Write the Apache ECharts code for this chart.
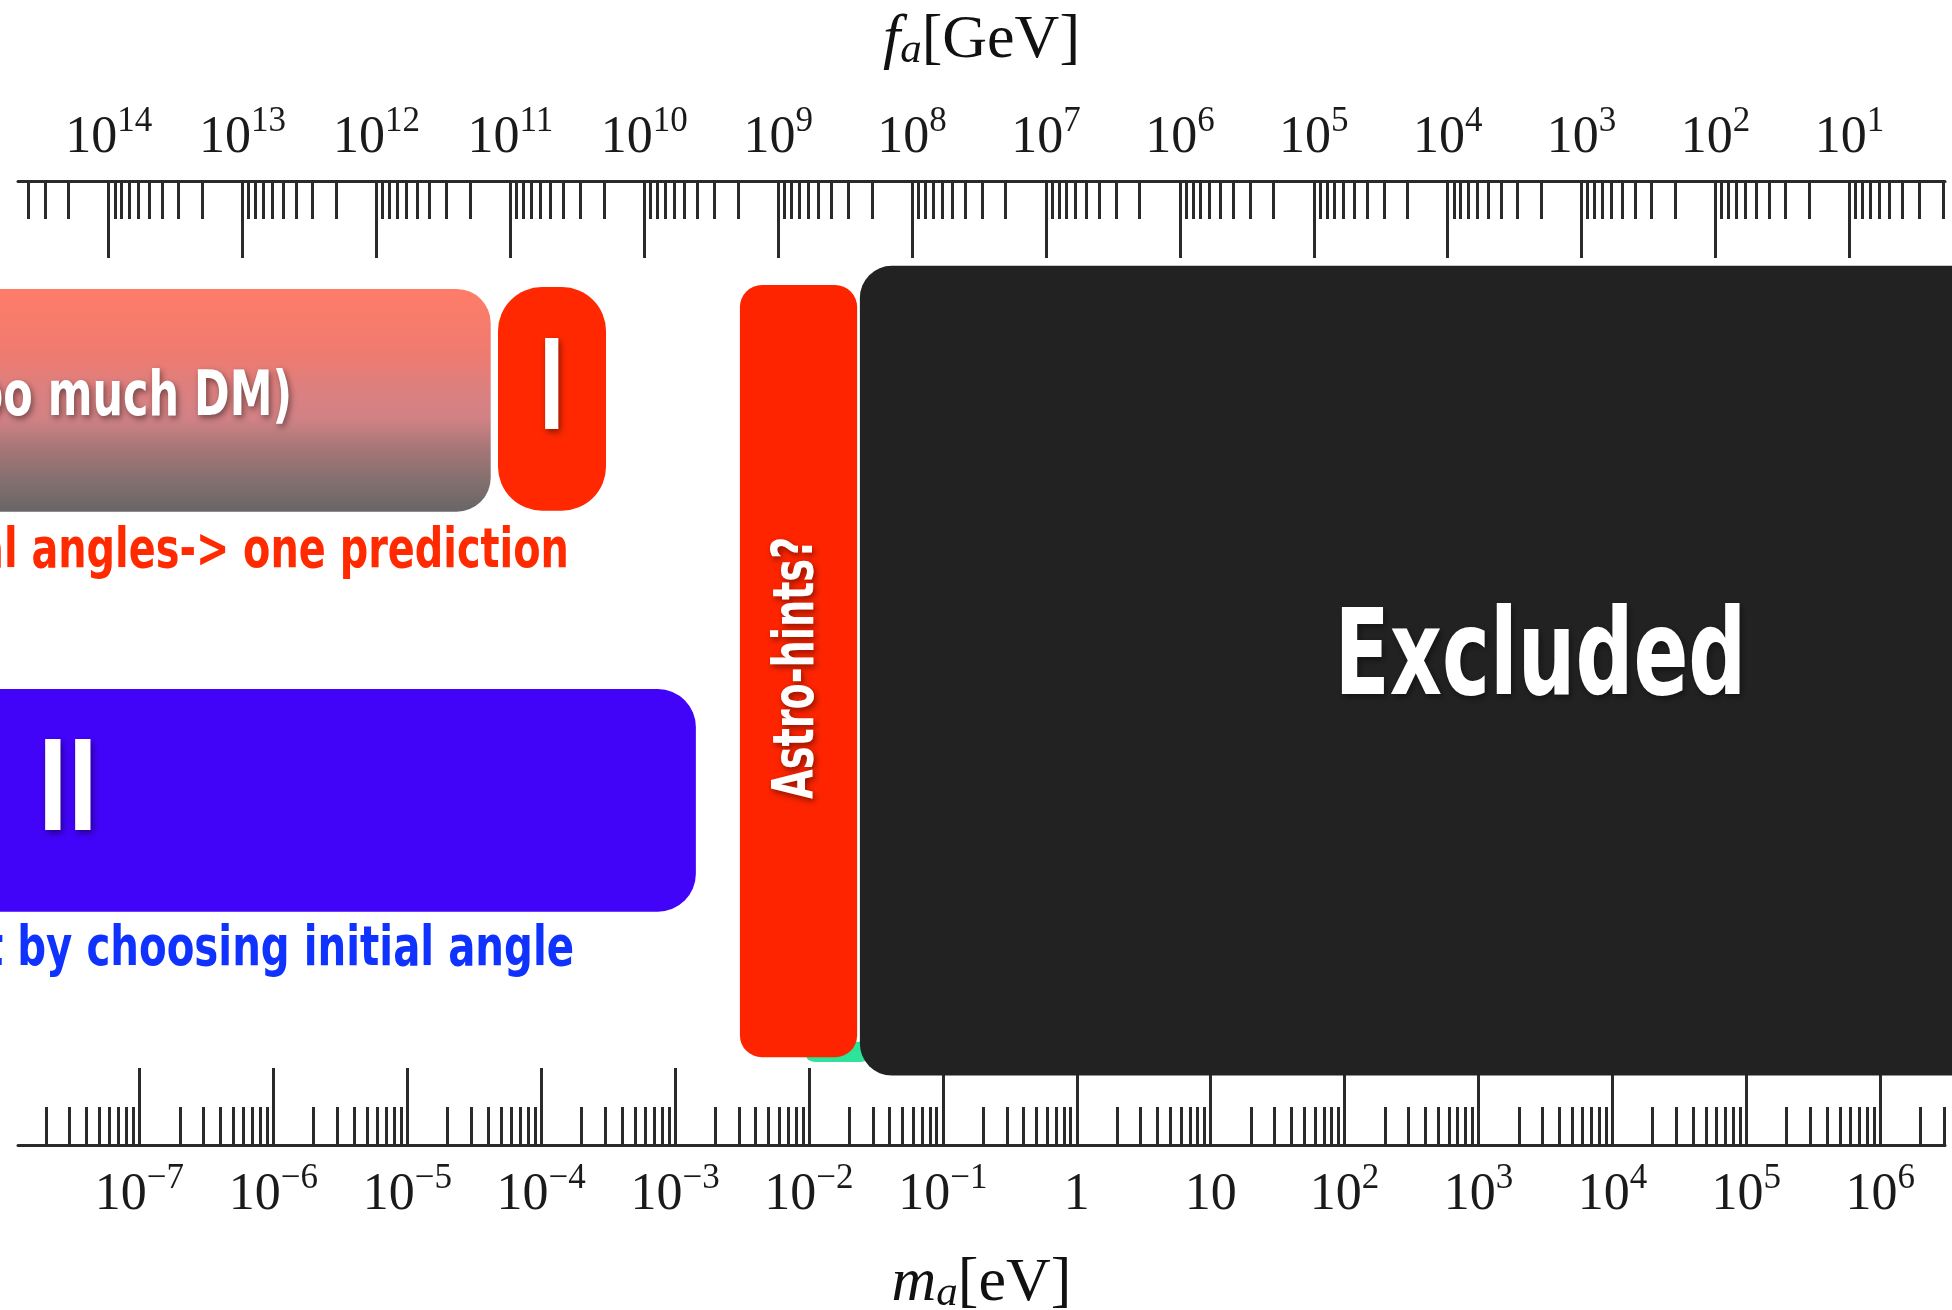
<!DOCTYPE html>
<html><head><meta charset="utf-8">
<script src="https://cdn.jsdelivr.net/npm/echarts@6/dist/echarts.min.js"></script>
<style>html,body{margin:0;padding:0;background:#fff;}#chart{width:1952px;height:1310px;}</style>
</head><body><div id="chart"></div>
<script>
// ---------------- DATA ----------------
// decade ticks (exponents) of both scales
const massDecadeExponents = [-7, -6, -5, -4, -3, -2, -1, 0, 1, 2, 3, 4, 5, 6];   // m_a [eV]
const faDecadeExponents   = [14, 13, 12, 11, 10, 9, 8, 7, 6, 5, 4, 3, 2, 1];        // f_a [GeV]
const minorMultipliers    = [2, 3, 4, 5, 6, 7, 8, 9];
// visible extent of the two log axes (log10 units)
const massAxisExtent = [-7.907, 6.484];
const faAxisExtent   = [0.286, 14.677];

// schematic regions: mass range in eV, vertical extent in % of panel height (0 = top axis)
const bandNames    = ['hidden band', 'Excluded', 'Astro-hints?', 'too much DM', 'I', 'II'];
const bandMassLow  = [9.3e-3, 2.4e-2, 3.05e-3, 3.0e-9, 4.76e-5, 3.0e-9];
const bandMassHigh = [2.9e-2, 1.0e7, 2.29e-2, 4.2e-5, 3.05e-4, 1.43e-3];
const bandTop      = [89.3, 8.8, 10.8, 11.2, 11.0, 52.7];
const bandBottom   = [91.4, 92.8, 90.9, 34.3, 34.2, 75.8];

// text annotations: anchor mass in eV, anchor height in % of panel height
const noteTexts  = ['Excluded', 'Astro-hints?', '(too much DM)', 'I', 'II',
                    'Natural initial angles-> one prediction',
                    'DM abundance set by choosing initial angle'];
const noteMass   = [2.9e3, 8.28e-3, 1.38e-6, 1.2e-4, 2.92e-8, 1.61e-4, 1.76e-4];
const noteHeight = [50.0, 50.5, 22.6, 22.4, 64.0, 38.5, 79.8];

// ---------------- STYLE ----------------
const SERIF = "'Liberation Serif', 'DejaVu Serif', serif";
const COND = "'Liberation Sans Narrow', 'DejaVu Sans Condensed', 'Liberation Sans', sans-serif";
const INK = '#2a2a2a';

const salmonGradient = new echarts.graphic.LinearGradient(0, 0, 0, 1, [
  { offset: 0, color: '#FF7C68' },
  { offset: 0.3, color: '#EE7B70' },
  { offset: 0.45, color: '#DC8080' },
  { offset: 0.58, color: '#D28285' },
  { offset: 0.72, color: '#A57676' },
  { offset: 0.86, color: '#846F6F' },
  { offset: 1, color: '#686666' }
]);
const bandStyles = [
  { fill: '#2EE39A', r: 10 },
  { fill: '#222222', r: 32 },
  { fill: '#FF2400', r: 22 },
  { fill: salmonGradient, r: 34 },
  { fill: '#FF2800', r: 44 },
  { fill: '#4203F9', r: 38 }
];
const noteStyles = [
  { size: 120, scaleX: 0.75, color: '#ffffff', align: 'center', shadow: true },
  { size: 57, scaleX: 0.745, color: '#ffffff', align: 'center', rotate: 90, shadow: true },
  { size: 62, scaleX: 0.77, color: '#ffffff', align: 'right', shadow: true },
  { size: 125, scaleX: 0.62, color: '#ffffff', align: 'center', shadow: true },
  { size: 125, scaleX: 0.72, color: '#ffffff', align: 'center', shadow: true },
  { size: 56, scaleX: 0.79, color: '#FF2A00', align: 'right' },
  { size: 56, scaleX: 0.8, color: '#0F32FF', align: 'right' }
];

// ---------------- BUILD ----------------
function minorTicks(extent) {
  const out = [];
  for (let n = Math.floor(extent[0]) - 1; n <= Math.ceil(extent[1]); n++) {
    minorMultipliers.forEach(k => {
      const v = n + Math.log10(k);
      if (v >= extent[0] && v <= extent[1]) out.push(v);
    });
  }
  return out;
}
const tickRich = {
  b: { fontSize: 52, fontFamily: SERIF, color: '#1a1a1a', lineHeight: 52 },
  s: { fontSize: 35, fontFamily: SERIF, color: '#1a1a1a', verticalAlign: 'top', height: 20, lineHeight: 20 }
};
function supText(n) { return n < 0 ? '\u2212' + (-n) : String(n); }
function massLabel(v) {
  const n = Math.round(v);
  if (n === 0) return '{b|1}';
  if (n === 1) return '{b|10}';
  return '{b|10}{s|' + supText(n) + '}';
}
function faLabel(v) {
  return '{b|10}{s|' + supText(Math.round(v)) + '}';
}
const titleRich = {
  it: { fontSize: 62, fontStyle: 'italic', fontFamily: SERIF, color: '#111', lineHeight: 62 },
  sub: { fontSize: 43, fontStyle: 'italic', fontFamily: SERIF, color: '#111', verticalAlign: 'bottom', lineHeight: 14 },
  rm: { fontSize: 62, fontFamily: SERIF, color: '#111', lineHeight: 62 }
};
const tickLine = { color: INK, width: 3 };

const xAxes = [
  { // bottom: m_a decades
    type: 'value', position: 'bottom', min: massAxisExtent[0], max: massAxisExtent[1],
    axisLine: { show: true, onZero: false, lineStyle: tickLine },
    axisTick: { show: true, inside: true, length: 77, lineStyle: tickLine, customValues: massDecadeExponents },
    axisLabel: { show: true, margin: 24, customValues: massDecadeExponents, formatter: massLabel, rich: tickRich },
    splitLine: { show: false },
    name: '{it|m}{sub|a}{rm|[eV]}', nameLocation: 'middle', nameGap: 108,
    nameTextStyle: { rich: titleRich }
  },
  { // bottom: m_a minor ticks
    type: 'value', position: 'bottom', min: massAxisExtent[0], max: massAxisExtent[1],
    axisLine: { show: false, onZero: false },
    axisTick: { show: true, inside: true, length: 38, lineStyle: tickLine, customValues: minorTicks(massAxisExtent) },
    axisLabel: { show: false }, splitLine: { show: false }
  },
  { // top: f_a decades
    type: 'value', position: 'top', inverse: true, min: faAxisExtent[0], max: faAxisExtent[1],
    axisLine: { show: true, onZero: false, lineStyle: tickLine },
    axisTick: { show: true, inside: true, length: 77, lineStyle: tickLine, customValues: faDecadeExponents },
    axisLabel: { show: true, margin: 17, customValues: faDecadeExponents, formatter: faLabel, rich: tickRich },
    splitLine: { show: false },
    name: '{it|f}{sub|a}{rm|[GeV]}', nameLocation: 'middle', nameGap: 109,
    nameTextStyle: { rich: titleRich }
  },
  { // top: f_a minor ticks
    type: 'value', position: 'top', inverse: true, min: faAxisExtent[0], max: faAxisExtent[1],
    axisLine: { show: false, onZero: false },
    axisTick: { show: true, inside: true, length: 38, lineStyle: tickLine, customValues: minorTicks(faAxisExtent) },
    axisLabel: { show: false }, splitLine: { show: false }
  }
];

const bandData = bandNames.map((name, i) => ({
  name: name,
  value: [Math.log10(bandMassLow[i]), Math.log10(bandMassHigh[i]), bandTop[i], bandBottom[i]]
}));
const noteData = noteTexts.map((t, i) => ({ name: t, value: [Math.log10(noteMass[i]), noteHeight[i]] }));

const chart = echarts.init(document.getElementById('chart'), null, { renderer: 'canvas' });
chart.setOption({
  animation: false,
  backgroundColor: '#ffffff',
  grid: { left: 18, right: 7, top: 181, bottom: 165, containLabel: false, outerBoundsMode: 'none' },
  xAxis: xAxes,
  yAxis: { type: 'value', min: 0, max: 100, inverse: true, show: false },
  series: [
    {
      type: 'custom', name: 'regions', xAxisIndex: 0, yAxisIndex: 0, clip: false,
      data: bandData,
      renderItem: function (params, api) {
        const st = bandStyles[params.dataIndex];
        const p1 = api.coord([api.value(0), api.value(2)]);
        const p2 = api.coord([api.value(1), api.value(3)]);
        return {
          type: 'rect',
          shape: { x: p1[0], y: p1[1], width: p2[0] - p1[0], height: p2[1] - p1[1], r: st.r },
          style: { fill: st.fill }
        };
      }
    },
    {
      type: 'custom', name: 'notes', xAxisIndex: 0, yAxisIndex: 0, clip: false,
      data: noteData,
      renderItem: function (params, api) {
        const i = params.dataIndex;
        const st = noteStyles[i];
        const p = api.coord([api.value(0), api.value(1)]);
        const style = {
          text: noteTexts[i], x: 0, y: 0, fill: st.color,
          fontSize: st.size, fontWeight: 'bold', fontFamily: COND,
          align: st.align, verticalAlign: 'middle',
          textAlign: st.align, textVerticalAlign: 'middle'
        };
        if (st.shadow) {
          style.textShadowColor = 'rgba(0,0,0,0.45)';
          style.textShadowBlur = 6;
          style.textShadowOffsetX = 2;
          style.textShadowOffsetY = 3;
        }
        return {
          type: 'text', x: p[0], y: p[1],
          rotation: (st.rotate || 0) * Math.PI / 180,
          scaleX: st.scaleX || 1,
          style: style
        };
      }
    }
  ]
});
</script>
</body></html>
